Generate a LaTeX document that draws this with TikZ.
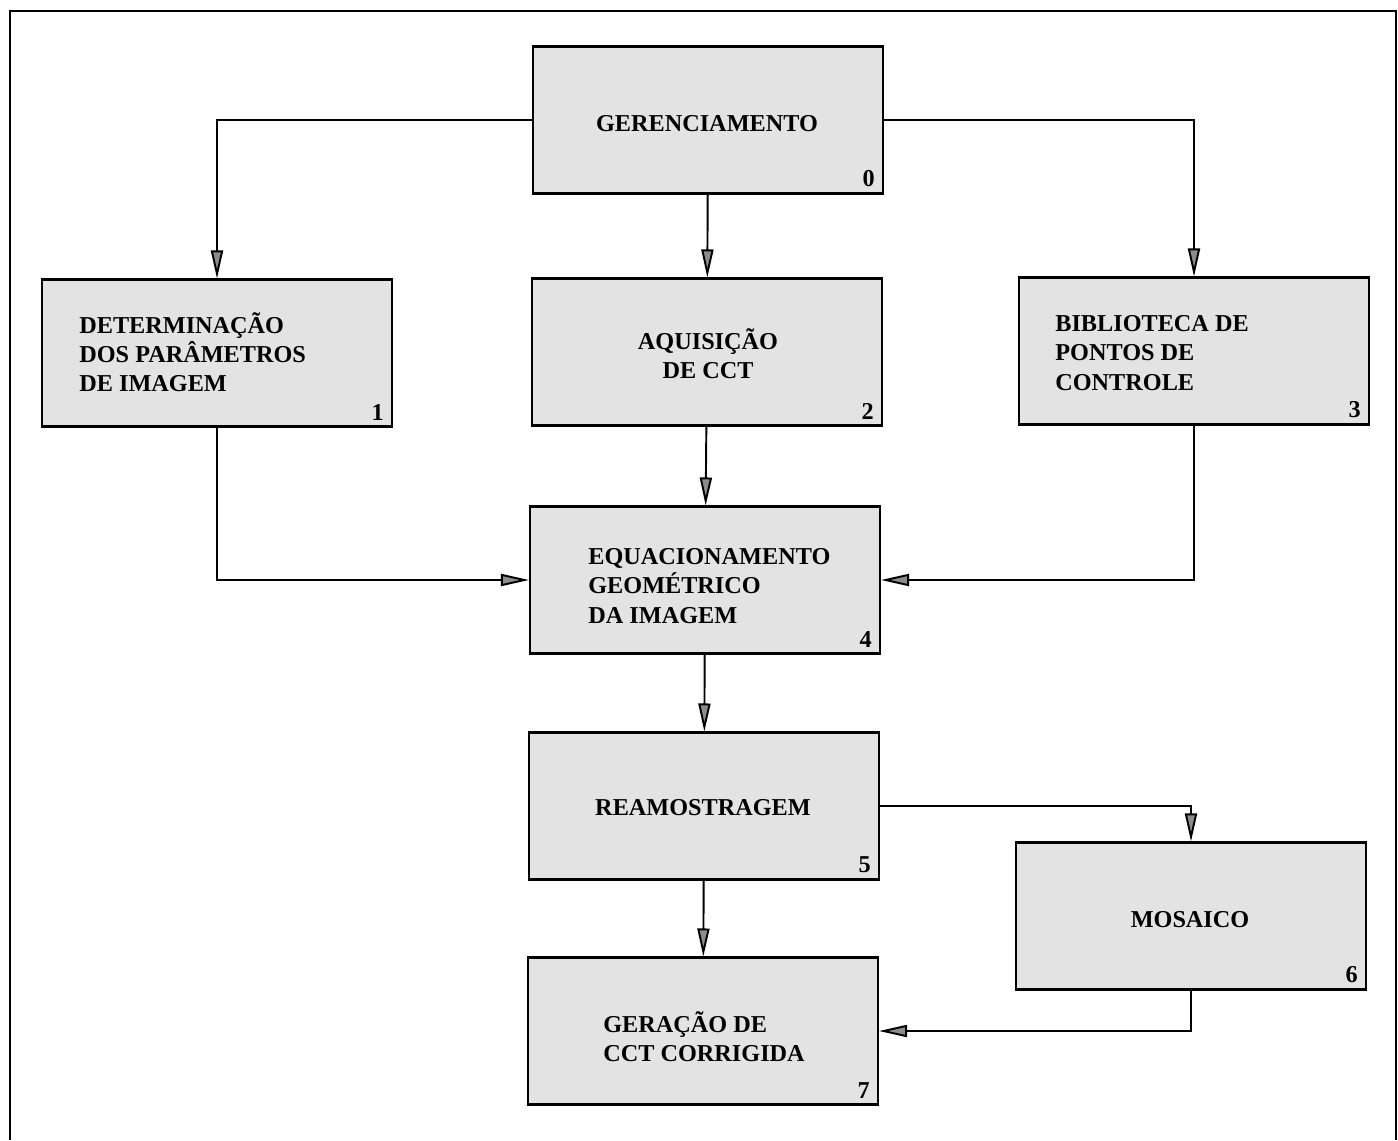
\documentclass[tikz,border=0pt]{standalone}
\usepackage{fontspec}
\setmainfont{Liberation Serif}
\usepackage{tikz}
\usetikzlibrary{arrows.meta}
\usetikzlibrary{positioning}
\tikzset{
    block/.style={
        draw,
        rectangle,
        line width=1.2pt,
        fill=black!11,
        minimum width=7cm,
        minimum height=2.94cm,
        inner sep=0pt
    },
    blocktext/.style={
        inner sep=0pt,
        align=left,
        font=\fontsize{13.8}{16.6}\selectfont\bfseries
    },
    blocknum/.style={
        anchor=south east,
        inner xsep=0.18cm,
        inner ysep=0.14cm,
        font=\fontsize{13.8}{16.6}\selectfont\bfseries
    },
    flow/.style={
        draw,
        line width=1.1pt,
        -{Triangle[length=5.6mm, width=2.4mm, fill=black!45]}
    }
}

\begin{document}
\begin{tikzpicture}[x=0.02cm, y=-0.02cm]
  \useasboundingbox (0,0) rectangle (1398,1140);

  % Frame
  \draw[line width=1.3pt] (10,1140) -- (10,11) -- (1396,11) -- (1396,1140);

  % Blocks
  \node[block] (b0) at (708,120) {};
  \node[block] (b1) at (217,353) {};
  \node[block] (b2) at (707,352) {};
  \node[block] (b3) at (1194,351) {};
  \node[block] (b4) at (705,580) {};
  \node[block] (b5) at (704,806) {};
  \node[block] (b6) at (1191,916) {};
  \node[block] (b7) at (703,1031) {};

  % Texts
  \node[blocktext] (t0) at (707,124) {GERENCIAMENTO};
  \node[blocktext, anchor=west] (t1) at (79,352) {DETERMINAÇÃO\\DOS PARÂMETROS\\DE IMAGEM};
  \node[blocktext, align=center] (t2) at (708,354) {AQUISIÇÃO\\DE CCT};
  \node[blocktext, anchor=west] (t3) at (1055,353) {BIBLIOTECA DE\\PONTOS DE\\CONTROLE};
  \node[blocktext, anchor=west] (t4) at (588,586) {EQUACIONAMENTO\\GEOMÉTRICO\\DA IMAGEM};
  \node[blocktext] (t5) at (703,808) {REAMOSTRAGEM};
  \node[blocktext] (t6) at (1190,920) {MOSAICO};
  \node[blocktext, anchor=west] (t7) at (603,1037) {GERAÇÃO DE\\CCT CORRIGIDA};

  % Numbers
  \node[blocknum] (n0) at (b0.south east) {0};
  \node[blocknum] (n1) at (b1.south east) {1};
  \node[blocknum] (n2) at (b2.south east) {2};
  \node[blocknum] (n3) at (b3.south east) {3};
  \node[blocknum] (n4) at (b4.south east) {4};
  \node[blocknum] (n5) at (b5.south east) {5};
  \node[blocknum] (n6) at (b6.south east) {6};
  \node[blocknum] (n7) at (b7.south east) {7};

  % Connectors
  \draw[flow] (b0.west) -| (b1.north);
  \draw[flow] (b0.east) -| (b3.north);
  \draw[flow] (b0) -- (b2);
  \draw[flow] (b1.south) |- (b4.west);
  \draw[flow] (b3.south) |- (b4.east);
  \draw[flow] (b2) -- (b4);
  \draw[flow] (b4) -- (b5);
  \draw[flow] (b5.east) -| (b6.north);
  \draw[flow] (b5) -- (b7);
  \draw[flow] (b6.south) |- (b7.east);
\end{tikzpicture}
\end{document}
